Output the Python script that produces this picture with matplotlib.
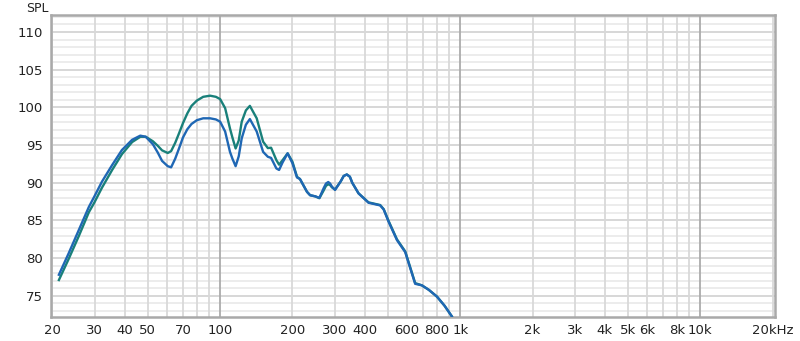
import numpy as np
import matplotlib
matplotlib.use('Agg')
import matplotlib.pyplot as plt
from matplotlib.ticker import FixedLocator, NullFormatter

# frequency points (Hz)
freq = [21.3, 23.4, 25.8, 28.4, 29.9, 32.2, 35.5, 39.0, 43.0, 46.5, 49, 52.5, 55, 57.3, 60.5,
        62.5, 65, 67.5, 70, 73, 76, 80, 85, 90.8, 96, 100, 104.9, 109.9, 112.5, 116, 119.5, 123,
        128, 133, 142, 151, 158, 163, 171.5, 176, 182, 191, 200, 209, 215, 230, 237, 249, 259,
        270, 276, 282, 287, 292, 301, 318, 327, 337, 347, 355, 377, 415, 464, 480, 502, 545,
        590, 649, 692, 740, 800, 860, 922]

spl_green = [77.1, 79.9, 82.95, 86.1, 87.35, 89.35, 91.7, 93.8, 95.4, 96.1, 96.1, 95.5, 94.9,
             94.3, 93.95, 94.2, 95.3, 96.6, 97.9, 99.2, 100.2, 100.9, 101.4, 101.55, 101.4,
             101.1, 99.9, 97.2, 96.0, 94.55, 95.6, 98.1, 99.6, 100.2, 98.55, 95.45, 94.6, 94.65,
             93.0, 92.4, 93.0, 93.9, 92.8, 90.8, 90.5, 88.8, 88.35, 88.2, 87.95, 89.0, 89.6,
             89.8, 89.7, 89.4, 89.1, 90.2, 90.9, 91.1, 90.8, 90.0, 88.6, 87.4, 87.05, 86.5,
             85.0, 82.5, 80.9, 76.7, 76.4, 75.8, 74.9, 73.7, 72.3]

spl_blue = [77.8, 80.65, 83.75, 86.8, 88.15, 90.15, 92.35, 94.35, 95.7, 96.25, 96.1, 95.1, 94.0,
            92.9, 92.2, 92.05, 93.2, 94.6, 96.0, 97.1, 97.8, 98.3, 98.55, 98.55, 98.4, 98.1,
            96.8, 94.1, 93.2, 92.2, 93.5, 95.9, 97.7, 98.45, 96.8, 94.1, 93.45, 93.3, 91.9,
            91.7, 92.7, 93.9, 92.6, 90.7, 90.5, 88.8, 88.35, 88.2, 88.0, 89.3, 89.9, 90.1, 89.9,
            89.5, 89.05, 90.2, 90.9, 91.1, 90.8, 90.0, 88.6, 87.35, 87.0, 86.45, 84.9, 82.4,
            80.8, 76.6, 76.4, 75.8, 74.9, 73.7, 72.3]

x_ticks = [20, 30, 40, 50, 70, 100, 200, 300, 400, 600, 800, 1000, 2000, 3000, 4000, 5000,
           6000, 8000, 10000, 20000]
x_labels = ['20', '30', '40', '50', '70', '100', '200', '300', '400', '600', '800', '1k', '2k',
            '3k', '4k', '5k', '6k', '8k', '10k', '20kHz']
y_ticks = [75, 80, 85, 90, 95, 100, 105, 110]

fig = plt.figure(figsize=(8, 3.41), dpi=100)
ax = fig.add_axes([51 / 800, 24 / 341, 724 / 800, 302 / 341])
ax.set_xscale('log')
ax.set_xlim(19.75, 20460)
ax.set_ylim(72.2, 112.25)

# grid: 1 dB lines, 5 dB darker; decade lines darker
for v in range(73, 113):
    ax.axhline(v, color='#d4d4d4' if v % 5 == 0 else '#ebebeb', lw=1.3, zorder=0)
minor_f = [f * d for d in (10, 100, 1000) for f in range(2, 10)] + [20000]
for f in minor_f:
    ax.axvline(f, color='#d9d9d9', lw=1.3, zorder=0)
for f in (100, 1000, 10000):
    ax.axvline(f, color='#ababab', lw=1.3, zorder=0)

ax.plot(freq, spl_green, color='#19807a', lw=1.7, zorder=3, solid_joinstyle='round')
ax.plot(freq, spl_blue, color='#1f67b4', lw=1.7, zorder=3, solid_joinstyle='round')

ax.xaxis.set_major_locator(FixedLocator(x_ticks))
ax.set_xticklabels(x_labels)
ax.xaxis.set_minor_formatter(NullFormatter())
ax.xaxis.set_minor_locator(FixedLocator([]))
ax.set_yticks(y_ticks)
ax.tick_params(length=0, labelsize=9.5, colors='#222222', pad=5)
ax.tick_params(axis='y', pad=6)

for s in ax.spines.values():
    s.set_color('#a9a9a9')
    s.set_linewidth(1.8)

fig.text(37 / 800, 1 - 8 / 341, 'SPL', ha='center', va='center', fontsize=9, color='#222222')

fig.savefig('out.png', dpi=100, facecolor='white')
